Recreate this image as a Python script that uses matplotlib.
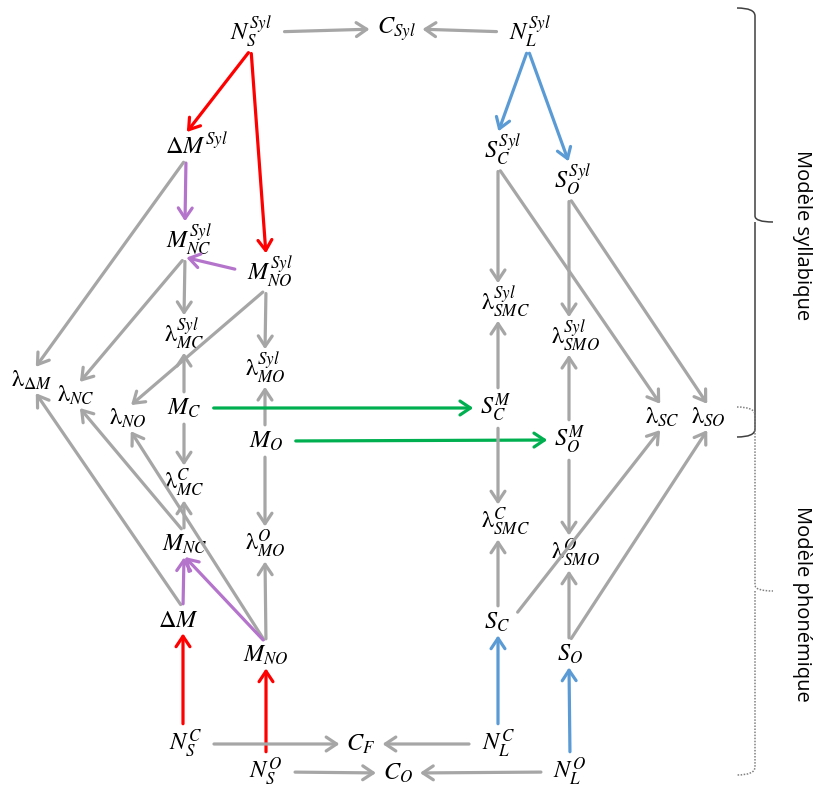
import matplotlib
matplotlib.use("Agg")
import matplotlib.pyplot as plt
from matplotlib.path import Path
from matplotlib.patches import PathPatch

plt.rcParams['mathtext.fontset'] = 'stix'

# Colours used in the diagram
GRAY = '#A6A6A6'
RED = '#FF0000'
BLUE = '#5B9BD5'
PURPLE = '#B474CC'
GREEN = '#00B050'

# Node labels
labels = {
    'NSsyl': r'$N_S^{Syl}$', 'Csyl': r'$C_{Syl}$', 'NLsyl': r'$N_L^{Syl}$',
    'dMsyl': r'$\Delta M^{Syl}$', 'MNCsyl': r'$M_{NC}^{Syl}$', 'MNOsyl': r'$M_{NO}^{Syl}$',
    'lMCsyl': r'$\mathrm{\lambda}_{MC}^{Syl}$', 'lMOsyl': r'$\mathrm{\lambda}_{MO}^{Syl}$',
    'ldM': r'$\mathrm{\lambda}_{\Delta M}$', 'lNC': r'$\mathrm{\lambda}_{NC}$',
    'lNO': r'$\mathrm{\lambda}_{NO}$',
    'MC': r'$M_C$', 'MO': r'$M_O$',
    'lMCc': r'$\mathrm{\lambda}_{MC}^{C}$', 'MNC': r'$M_{NC}$', 'lMOo': r'$\mathrm{\lambda}_{MO}^{O}$',
    'dM': r'$\Delta M$', 'MNO': r'$M_{NO}$',
    'NSc': r'$N_S^C$', 'NSo': r'$N_S^O$', 'CF': r'$C_F$', 'CO': r'$C_O$',
    'NLc': r'$N_L^C$', 'NLo': r'$N_L^O$',
    'SCsyl': r'$S_C^{Syl}$', 'SOsyl': r'$S_O^{Syl}$',
    'lSMCsyl': r'$\mathrm{\lambda}_{SMC}^{Syl}$', 'lSMOsyl': r'$\mathrm{\lambda}_{SMO}^{Syl}$',
    'SCM': r'$S_C^M$', 'SOM': r'$S_O^M$',
    'lSMCc': r'$\mathrm{\lambda}_{SMC}^{C}$', 'lSMOo': r'$\mathrm{\lambda}_{SMO}^{O}$',
    'SC': r'$S_C$', 'SO': r'$S_O$',
    'lSC': r'$\mathrm{\lambda}_{SC}$', 'lSO': r'$\mathrm{\lambda}_{SO}$',
}

# Layout: label centre (x, y) and the x of the vertical connectors
layout = {
    'NSsyl': (251, 32, 251), 'Csyl': (396, 29, 396), 'NLsyl': (530, 32, 528),
    'dMsyl': (197, 146, 186), 'MNCsyl': (189, 240, 185), 'MNOsyl': (270, 272, 266),
    'lMCsyl': (184, 334, 184), 'lMOsyl': (265, 368, 265),
    'ldM': (32, 380, 35), 'lNC': (76, 395, 79), 'lNO': (128, 418, 130),
    'MC': (184, 408, 184), 'MO': (266, 441, 265),
    'lMCc': (184, 483, 184), 'MNC': (185, 544, 184), 'lMOo': (265, 544, 265),
    'dM': (178, 620, 183), 'MNO': (266, 655, 266),
    'NSc': (185, 744, 183), 'NSo': (266, 772, 266), 'CF': (361, 744, 361), 'CO': (398, 773, 398),
    'NLc': (498, 744, 498), 'NLo': (570, 772, 570),
    'SCsyl': (503, 150, 498), 'SOsyl': (573, 180, 569),
    'lSMCsyl': (505, 302, 498), 'lSMOsyl': (575, 336, 569),
    'SCM': (496, 408, 498), 'SOM': (570, 440, 569),
    'lSMCc': (505, 522, 498), 'lSMOo': (575, 553, 569),
    'SC': (497, 622, 498), 'SO': (570, 654, 569),
    'lSC': (662, 417, 661), 'lSO': (708, 417, 708),
}

# Edges: (source, port, target, port, colour)
edges = [
    ('NSsyl', 'e', 'Csyl', 'w', GRAY), ('NLsyl', 'w', 'Csyl', 'e', GRAY),
    ('NSsyl', 's', 'dMsyl', 'n', RED), ('NSsyl', 's', 'MNOsyl', 'n', RED),
    ('NLsyl', 's', 'SCsyl', 'n', BLUE), ('NLsyl', 's', 'SOsyl', 'n', BLUE),
    ('dMsyl', 's', 'MNCsyl', 'n', PURPLE), ('MNOsyl', 'w', 'MNCsyl', 's', PURPLE),
    ('dMsyl', 's', 'ldM', 'n', GRAY), ('MNCsyl', 's', 'lNC', 'n', GRAY),
    ('MNCsyl', 's', 'lMCsyl', 'n', GRAY), ('MNOsyl', 's', 'lNO', 'n', GRAY),
    ('MNOsyl', 's', 'lMOsyl', 'n', GRAY),
    ('MC', 'n', 'lMCsyl', 's', GRAY), ('MC', 's', 'lMCc', 'n', GRAY),
    ('MO', 'n', 'lMOsyl', 's', GRAY), ('MO', 's', 'lMOo', 'n', GRAY),
    ('MC', 'e', 'SCM', 'w', GREEN), ('MO', 'e', 'SOM', 'w', GREEN),
    ('MNC', 'n', 'lMCc', 's', GRAY), ('MNC', 'n', 'lNC', 's', GRAY),
    ('MNO', 'n', 'lNO', 's', GRAY), ('dM', 'n', 'ldM', 's', GRAY),
    ('dM', 'n', 'MNC', 's', PURPLE), ('MNO', 'n', 'MNC', 's', PURPLE),
    ('MNO', 'n', 'lMOo', 's', GRAY),
    ('NSc', 'n', 'dM', 's', RED), ('NSo', 'n', 'MNO', 's', RED),
    ('NSc', 'e', 'CF', 'w', GRAY), ('NLc', 'w', 'CF', 'e', GRAY),
    ('NSo', 'e', 'CO', 'w', GRAY), ('NLo', 'w', 'CO', 'e', GRAY),
    ('NLc', 'n', 'SC', 's', BLUE), ('NLo', 'n', 'SO', 's', BLUE),
    ('SCsyl', 's', 'lSMCsyl', 'n', GRAY), ('SCsyl', 's', 'lSC', 'n', GRAY),
    ('SOsyl', 's', 'lSMOsyl', 'n', GRAY), ('SOsyl', 's', 'lSO', 'n', GRAY),
    ('SCM', 'n', 'lSMCsyl', 's', GRAY), ('SCM', 's', 'lSMCc', 'n', GRAY),
    ('SOM', 'n', 'lSMOsyl', 's', GRAY), ('SOM', 's', 'lSMOo', 'n', GRAY),
    ('SC', 'n', 'lSMCc', 's', GRAY), ('SO', 'n', 'lSMOo', 's', GRAY),
    ('SC', 'e', 'lSC', 's', GRAY), ('SO', 'n', 'lSO', 's', GRAY),
]

# Braces on the right: (top, bottom, cusp, caption, solid?)
braces = [
    (8, 437, 222, 'Modèle syllabique', True),
    (407, 775, 591, 'Modèle phonémique', False),
]

fig = plt.figure(figsize=(8.13, 7.90), dpi=100)
ax = fig.add_axes([0, 0, 1, 1])
ax.set_xlim(0, 813)
ax.set_ylim(790, 0)
ax.axis('off')

texts = {}
for key, lab in labels.items():
    cx, cy, _ = layout[key]
    texts[key] = ax.text(cx, cy, lab, ha='center', va='center', fontsize=17.5, zorder=3)


def port(key, side):
    t = texts[key]
    px = layout[key][2]
    if side == 'n':
        return (px, 1.0), ('data', t), 3
    if side == 's':
        return (px, 0.0), ('data', t), 3
    if side == 'e':
        return (1.0, 0.5), t, 9
    return (0.0, 0.5), t, 9


for src, sp, dst, dp, col in edges:
    xyA, cA, shA = port(src, sp)
    xyB, cB, shB = port(dst, dp)
    ax.annotate('', xy=xyB, xycoords=cB, xytext=xyA, textcoords=cA,
                arrowprops=dict(arrowstyle='->,head_length=0.75,head_width=0.5',
                                color=col, lw=2.3, shrinkA=shA, shrinkB=shB - 4))

for top, bottom, cusp, caption, solid in braces:
    x0, x1, xc = 737, 755, 773
    verts = [(x0, top), (x1, top), (x1, top + 8),
             (x1, cusp - 6), (x1, cusp), (xc, cusp),
             (x1, cusp), (x1, cusp + 6),
             (x1, bottom - 8), (x1, bottom), (x0, bottom)]
    codes = [Path.MOVETO, Path.CURVE3, Path.CURVE3,
             Path.LINETO, Path.CURVE3, Path.CURVE3,
             Path.MOVETO, Path.LINETO,
             Path.LINETO, Path.CURVE3, Path.CURVE3]
    if solid:
        patch = PathPatch(Path(verts, codes), fill=False, edgecolor='#404040', lw=1.1)
    else:
        patch = PathPatch(Path(verts, codes), fill=False, edgecolor='#808080', lw=1.1,
                          linestyle=(0, (1, 1)))
    ax.add_patch(patch)
    ax.text(802, (top + bottom) / 2 + 13, caption, rotation=270, ha='center', va='center',
            fontsize=14.5, family='Open Sans')

fig.savefig('out.png', dpi=100)
